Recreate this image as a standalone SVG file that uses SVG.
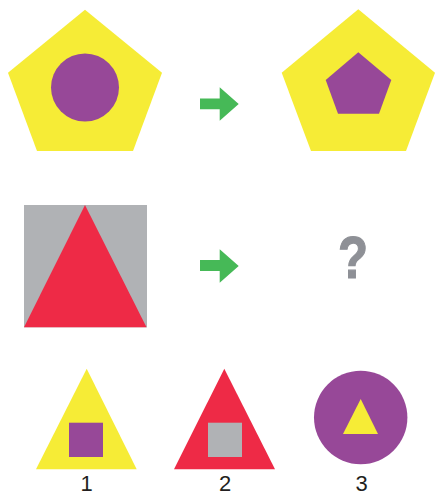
<svg xmlns="http://www.w3.org/2000/svg" width="436" height="495" viewBox="0 0 436 495">
<style>
.y{fill:#f6ec36}.p{fill:#974898}.r{fill:#ee2a46}.g{fill:#b0b2b5}.a{fill:#46b957}
.lbl{font-family:"Liberation Sans",Arial,sans-serif;font-size:22px;fill:#231f20;text-anchor:middle}
.q{font-family:"Liberation Sans",Arial,sans-serif;font-weight:bold;font-size:60px;fill:#8e9096;text-anchor:middle}
</style>
<rect width="436" height="495" fill="#fff"/>
<g id="pentagon-circle">
<polygon class="y" points="85,9.7 162,72.7 133,151 37,151 8,72.7"/>
<circle class="p" cx="85" cy="87.5" r="34"/>
</g>
<g id="pentagon-pentagon">
<polygon class="y" points="358.3,9.3 435,72.7 406,151 311,151 281.7,72.7"/>
<polygon class="p" points="358.3,52.3 391.3,80 379,113.7 338,113.7 325.7,80"/>
</g>
<g id="square-triangle">
<rect class="g" x="24" y="205" width="123" height="122.3"/>
<polygon class="r" points="85,205 146.5,327.3 24,327.3"/>
</g>
<g id="question">
<text class="q" x="353" y="278" stroke="#8e9096" stroke-width="1.2" transform="translate(353 0) scale(0.82 1) translate(-353 0)">?</text>
</g>
<g id="option1">
<polygon class="y" points="86.7,368.7 136.7,469.3 36,469.3"/>
<rect class="p" x="69" y="422.7" width="34" height="34.3"/>
<text class="lbl" x="86.7" y="491">1</text>
</g>
<g id="option2">
<polygon class="r" points="224.3,368.7 275,469.3 174,469.3"/>
<rect class="g" x="208" y="422.7" width="34" height="34.3"/>
<text class="lbl" x="225" y="491">2</text>
</g>
<g id="option3">
<circle class="p" cx="360.7" cy="417.5" r="46.7"/>
<polygon class="y" points="360.7,399 378,434 343,434"/>
<text class="lbl" x="361.7" y="491">3</text>
</g>
<g id="connectors">
<polygon class="a" points="200,98.5 219.7,98.5 219.7,87.3 238.7,104 219.7,120.7 219.7,109.3 200,109.3"/>
<polygon class="a" points="200,260 219.7,260 219.7,249.3 238.7,266 219.7,282.7 219.7,271 200,271"/>
</g>
</svg>
